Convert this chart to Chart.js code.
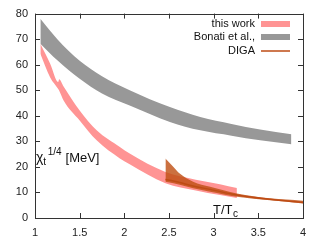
<html>
<head>
<script src="https://cdn.jsdelivr.net/npm/chart.js"></script>
<style>
  body { margin: 0; background: #fff; }
</style>
</head>
<body>
<canvas id="myChart" width="328" height="245"></canvas>
<script>
  // values
  const bonatiT  = [1.06, 1.25, 1.5, 1.75, 2.06, 2.51, 2.85, 3.2, 3.52, 3.87];
  const bonatiHi = [78, 70, 61.5, 55.5, 50, 43.4, 39.5, 36.8, 34.6, 32.8];
  const bonatiLo = [68.2, 61.7, 54.5, 48.7, 44, 37.6, 34.3, 32.2, 30.4, 28.9];

  const workT  = [1.06, 1.17, 1.26, 1.27, 1.32, 1.5, 1.69, 1.95, 2.06, 2.46, 2.8, 3.07, 3.26];
  const workHi = [68.2, 60.4, 53.2, 54.3, 51.5, 42.1, 34.3, 27.8, 25.2, 18, 15, 13.2, 11.7];
  const workLo = [64.3, 55, 50.5, 49.9, 46, 38.2, 30.4, 23.3, 21, 13.6, 10.8, 9, 7.8];

  const digaT   = [2.46, 2.55, 2.62, 2.77, 2.96, 3.26, 3.63, 4.0];
  const digaHi  = [23.3, 20, 17.4, 14.2, 12.2, 9.6, 7.7, 6.8];
  const digaMid = [15.1, 14.5, 13.9, 12.5, 11.2, 9, 7.3, 6.1];
  const digaLo  = [14.2, 13.6, 13, 11.6, 10.3, 8.3, 6.9, 5.7];

  const xTicks = [1, 1.5, 2, 2.5, 3, 3.5, 4];
  const yTicks = [0, 10, 20, 30, 40, 50, 60, 70, 80];

  const labels = ['this work', 'Bonati et al.,', 'DIGA'];

  const pink = 'rgb(255,148,148)';
  const grey = 'rgb(152,152,152)';
  const orange = 'rgba(190,78,16,0.8)';
  const orangeLine = 'rgb(190,75,20)';
  const font = '"Liberation Sans", Arial, sans-serif';

  const pts = (t, v) => t.map((x, i) => ({x: x, y: v[i]}));

  function band(t, v, color, fill) {
    return {
      data: pts(t, v),
      borderWidth: 0,
      pointRadius: 0,
      backgroundColor: color,
      cubicInterpolationMode: 'monotone',
      fill: fill
    };
  }

  const frame = {
    id: 'frame',
    afterDraw(chart) {
      const {ctx, chartArea: a, scales: {x, y}} = chart;
      ctx.save();
      ctx.strokeStyle = '#333';
      ctx.lineWidth = 1;
      ctx.strokeRect(Math.round(a.left) + 0.5, Math.round(a.top) + 0.5,
        Math.round(a.right - a.left), Math.round(a.bottom - a.top));
      ctx.beginPath();
      xTicks.forEach(v => {
        const px = Math.round(x.getPixelForValue(v)) + 0.5;
        ctx.moveTo(px, a.bottom); ctx.lineTo(px, a.bottom - 5);
        ctx.moveTo(px, a.top); ctx.lineTo(px, a.top + 5);
      });
      yTicks.forEach(v => {
        const py = Math.round(y.getPixelForValue(v)) + 0.5;
        ctx.moveTo(a.left, py); ctx.lineTo(a.left + 5, py);
        ctx.moveTo(a.right, py); ctx.lineTo(a.right - 5, py);
      });
      ctx.stroke();

      // axis titles inside the plot
      ctx.fillStyle = '#111';
      ctx.textBaseline = 'alphabetic';
      ctx.textAlign = 'left';
      let cx = 36;
      ctx.font = '14px ' + font;
      ctx.fillText('\u03c7', cx, 162);
      cx += ctx.measureText('\u03c7').width;
      ctx.font = '10px ' + font;
      ctx.fillText('t', cx, 165);
      cx += ctx.measureText('t').width + 1.5;
      ctx.font = '10px ' + font;
      ctx.fillText('1/4', cx, 155);
      cx += ctx.measureText('1/4').width + 4;
      ctx.font = '13px ' + font;
      ctx.fillText('[MeV]', cx, 162);
      ctx.fillText('T/T', 213, 214);
      ctx.font = '10px ' + font;
      ctx.fillText('c', 233, 217);

      // legend
      ctx.font = '11px ' + font;
      ctx.textAlign = 'right';
      ctx.textBaseline = 'middle';
      const rows = [24, 37, 51];
      labels.forEach((l, i) => ctx.fillText(l, 255, rows[i]));
      ctx.fillStyle = pink;
      ctx.fillRect(261, 21, 29, 6);
      ctx.fillStyle = grey;
      ctx.fillRect(261, 34, 29, 6);
      ctx.strokeStyle = orangeLine;
      ctx.lineWidth = 1.5;
      ctx.beginPath();
      ctx.moveTo(261, 51); ctx.lineTo(290, 51);
      ctx.stroke();
      ctx.restore();
    }
  };

  new Chart(document.getElementById('myChart'), {
    type: 'line',
    data: {
      datasets: [
        {data: pts(digaT, digaMid), borderColor: orangeLine, borderWidth: 1.5, pointRadius: 0,
          cubicInterpolationMode: 'monotone', fill: false},
        band(digaT, digaHi, orange, 2),
        band(digaT, digaLo, orange, false),
        band(workT, workHi, pink, 4),
        band(workT, workLo, pink, false),
        band(bonatiT, bonatiHi, grey, 6),
        band(bonatiT, bonatiLo, grey, false)
      ]
    },
    options: {
      responsive: false,
      animation: false,
      devicePixelRatio: 1,
      layout: {padding: {top: 13, right: 25, left: 0, bottom: 0}},
      plugins: {legend: {display: false}, tooltip: {enabled: false}},
      scales: {
        x: {
          type: 'linear', min: 1, max: 4,
          afterFit: s => { s.height = 27; },
          afterBuildTicks: s => { s.ticks = xTicks.map(v => ({value: v})); },
          grid: {display: false, drawTicks: false},
          border: {display: false},
          ticks: {padding: 8, color: '#222', font: {size: 11, family: font}, callback: v => String(v)}
        },
        y: {
          min: 0, max: 80,
          afterFit: s => { s.width = 35; },
          afterBuildTicks: s => { s.ticks = yTicks.map(v => ({value: v})); },
          grid: {display: false, drawTicks: false},
          border: {display: false},
          ticks: {padding: 7, color: '#222', font: {size: 11, family: font}, callback: v => String(v)}
        }
      }
    },
    plugins: [frame]
  });
</script>
</body>
</html>
